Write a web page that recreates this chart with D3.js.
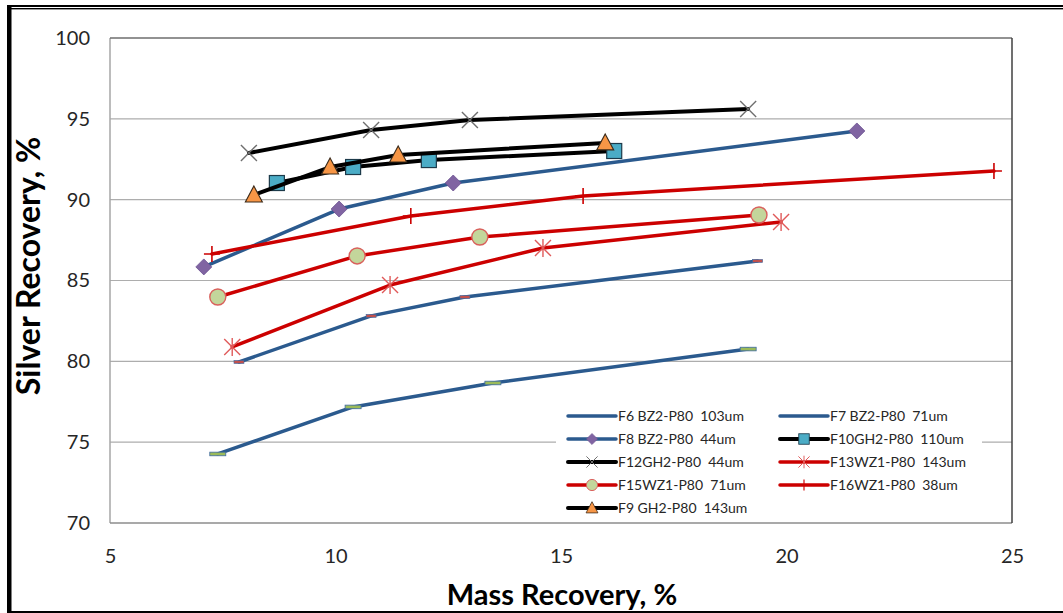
<!DOCTYPE html>
<html>
<head>
<meta charset="utf-8">
<script src="https://cdn.jsdelivr.net/npm/d3@7"></script>
<style>
  html, body { margin: 0; padding: 0; background: #fff; }
  svg { display: block; font-family: Lato, "Open Sans", "DejaVu Sans", sans-serif; }
</style>
</head>
<body>
<svg id="chart" width="1063" height="613"></svg>
<script>
// Mass recovery (%) vs silver recovery (%) for each flotation test
const seriesNames = [
  "F6 BZ2-P80  103um", "F7 BZ2-P80  71um", "F8 BZ2-P80  44um", "F10GH2-P80  110um",
  "F12GH2-P80  44um", "F13WZ1-P80  143um", "F15WZ1-P80  71um", "F16WZ1-P80  38um",
  "F9 GH2-P80  143um"
];
const f6MassRec   = [7.39, 10.39, 13.49, 19.15];
const f6SilverRec = [74.27, 77.18, 78.66, 80.76];
const f7MassRec   = [7.86, 10.79, 12.87, 19.36];
const f7SilverRec = [79.96, 82.81, 83.98, 86.21];
const f8MassRec   = [7.08, 10.08, 12.61, 21.56];
const f8SilverRec = [85.84, 89.42, 91.03, 94.25];
const f10MassRec   = [8.70, 10.39, 12.07, 16.18];
const f10SilverRec = [91.03, 92.02, 92.45, 93.01];
const f12MassRec   = [8.08, 10.79, 12.98, 19.15];
const f12SilverRec = [92.89, 94.31, 94.93, 95.61];
const f13MassRec   = [7.71, 11.21, 14.60, 19.88];
const f13SilverRec = [80.89, 84.72, 87.01, 88.62];
const f15MassRec   = [7.39, 10.48, 13.20, 19.39];
const f15SilverRec = [83.98, 86.52, 87.69, 89.05];
const f16MassRec   = [7.26, 11.67, 15.49, 24.60];
const f16SilverRec = [86.64, 88.99, 90.23, 91.77];
const f9MassRec   = [8.19, 9.88, 11.39, 15.98];
const f9SilverRec = [90.29, 92.02, 92.76, 93.51];

const xTicks = [5, 10, 15, 20, 25];
const yTicks = [70, 75, 80, 85, 90, 95, 100];

const BLUE = "#2b5a8e", RED = "#cc0000", BLACK = "#000000";

const series = [
  { name: seriesNames[0], x: f6MassRec,  y: f6SilverRec,  color: BLUE,  width: 3.5, marker: "dashWide",  legendMarker: false },
  { name: seriesNames[1], x: f7MassRec,  y: f7SilverRec,  color: BLUE,  width: 3.5, marker: "dashShort", legendMarker: false },
  { name: seriesNames[2], x: f8MassRec,  y: f8SilverRec,  color: BLUE,  width: 3.5, marker: "diamond",   legendMarker: true },
  { name: seriesNames[3], x: f10MassRec, y: f10SilverRec, color: BLACK, width: 4,   marker: "square",    legendMarker: true },
  { name: seriesNames[4], x: f12MassRec, y: f12SilverRec, color: BLACK, width: 4,   marker: "x",         legendMarker: true },
  { name: seriesNames[5], x: f13MassRec, y: f13SilverRec, color: RED,   width: 3.5, marker: "star",      legendMarker: true },
  { name: seriesNames[6], x: f15MassRec, y: f15SilverRec, color: RED,   width: 3.5, marker: "circle",    legendMarker: true },
  { name: seriesNames[7], x: f16MassRec, y: f16SilverRec, color: RED,   width: 3.5, marker: "plus",      legendMarker: true },
  { name: seriesNames[8], x: f9MassRec,  y: f9SilverRec,  color: BLACK, width: 4,   marker: "triangle",  legendMarker: true }
];

const svg = d3.select("#chart");
const plot = { left: 110, right: 1012, top: 38, bottom: 523 };

const x = d3.scaleLinear().domain([5, 25]).range([plot.left, plot.right]);
const y = d3.scaleLinear().domain([70, 100]).range([plot.bottom, plot.top]);

// Outer frame
svg.append("rect").attr("x", 7).attr("y", 5).attr("width", 1056).attr("height", 2).attr("fill", "#000");
svg.append("rect").attr("x", 11).attr("y", 8).attr("width", 1052).attr("height", 1.4).attr("fill", "#000");
svg.append("rect").attr("x", 7).attr("y", 5).attr("width", 4.5).attr("height", 608).attr("fill", "#000");
svg.append("rect").attr("x", 7).attr("y", 611).attr("width", 1056).attr("height", 2).attr("fill", "#000");

// Horizontal gridlines
svg.append("g")
  .selectAll("line")
  .data(yTicks.slice(1, -1))
  .join("line")
  .attr("x1", plot.left).attr("x2", plot.right)
  .attr("y1", d => y(d)).attr("y2", d => y(d))
  .attr("stroke", "#adadad").attr("stroke-width", 1.2);

// Y axis tick labels
const yAxis = d3.axisLeft(y).tickValues(yTicks).tickSize(0).tickPadding(20);
const gy = svg.append("g").attr("transform", `translate(${plot.left},0)`).call(yAxis);
gy.select(".domain").remove();
gy.selectAll("text")
  .attr("font-family", "Lato, 'Open Sans', sans-serif")
  .attr("font-size", 20).attr("fill", "#262626");

// X axis tick labels
const xAxis = d3.axisBottom(x).tickValues(xTicks).tickSize(0).tickPadding(26);
const gx = svg.append("g").attr("transform", `translate(0,${plot.bottom})`).call(xAxis);
gx.select(".domain").remove();
gx.selectAll("text")
  .attr("font-family", "Lato, 'Open Sans', sans-serif")
  .attr("font-size", 20).attr("fill", "#262626");

// Axis titles
svg.append("text")
  .attr("transform", `translate(40,266) rotate(-90)`)
  .attr("text-anchor", "middle")
  .attr("font-size", 32).attr("font-weight", "bold").attr("fill", "#000")
  .text("Silver Recovery, %");
svg.append("text")
  .attr("x", 562).attr("y", 605)
  .attr("text-anchor", "middle")
  .attr("font-size", 29).attr("font-weight", "bold").attr("fill", "#000")
  .text("Mass Recovery, %");

// Marker drawing
function drawMarker(g, type) {
  switch (type) {
    case "dashWide":
      g.append("rect").attr("x", -8).attr("y", -1.8).attr("width", 16).attr("height", 3.6)
        .attr("fill", "#9bbb59").attr("stroke", "#3e6aa3").attr("stroke-width", 0.8);
      break;
    case "dashShort":
      g.append("rect").attr("x", -5).attr("y", -1.5).attr("width", 10).attr("height", 3)
        .attr("fill", "#c0504d").attr("stroke", "#3e6aa3").attr("stroke-width", 0.6);
      break;
    case "diamond":
      g.append("path").attr("d", "M0,-8L8,0L0,8L-8,0Z")
        .attr("fill", "#8064a2").attr("stroke", "#6b5290").attr("stroke-width", 0.8);
      break;
    case "square":
      g.append("rect").attr("x", -7.5).attr("y", -7.5).attr("width", 15).attr("height", 15)
        .attr("fill", "#4bacc6").attr("stroke", "#1c3a4a").attr("stroke-width", 1.2);
      break;
    case "x":
      g.append("path").attr("d", "M-8,-8L8,8M-8,8L8,-8")
        .attr("stroke", "#6f6f6f").attr("stroke-width", 1.4).attr("fill", "none");
      break;
    case "star":
      g.append("path").attr("d", "M-8,-8L8,8M-8,8L8,-8M0,-9L0,9")
        .attr("stroke", "#e05a5a").attr("stroke-width", 1.4).attr("fill", "none");
      break;
    case "circle":
      g.append("circle").attr("r", 8)
        .attr("fill", "#c3d69b").attr("stroke", "#d9605c").attr("stroke-width", 1.4);
      break;
    case "plus":
      g.append("path").attr("d", "M0,-8L0,8M-8,0L8,0")
        .attr("stroke", "#cc0000").attr("stroke-width", 1.6).attr("fill", "none");
      break;
    case "triangle":
      g.append("path").attr("d", "M0,-9L8.5,7L-8.5,7Z")
        .attr("fill", "#f79646").attr("stroke", "#3a2a1a").attr("stroke-width", 1.1);
      break;
  }
}

const line = d3.line().x(d => x(d[0])).y(d => y(d[1]));

// Legend background sits behind the series
const legend = { left: 556, right: 982, top: 403, bottom: 521 };
svg.append("rect")
  .attr("x", legend.left).attr("y", legend.top)
  .attr("width", legend.right - legend.left).attr("height", legend.bottom - legend.top)
  .attr("fill", "#fff");

// Series lines and markers
const gSeries = svg.append("g");
series.forEach(s => {
  const pts = s.x.map((v, i) => [v, s.y[i]]);
  const g = gSeries.append("g");
  g.append("path").datum(pts).attr("d", line)
    .attr("fill", "none").attr("stroke", s.color).attr("stroke-width", s.width)
    .attr("stroke-linejoin", "round").attr("stroke-linecap", "round");
  pts.forEach(p => {
    drawMarker(g.append("g").attr("transform", `translate(${x(p[0])},${y(p[1])})`), s.marker);
  });
});

// Plot frame
svg.append("line").attr("x1", plot.left).attr("x2", plot.left).attr("y1", plot.top).attr("y2", plot.bottom)
  .attr("stroke", "#a6a6a6").attr("stroke-width", 1.5);
svg.append("line").attr("x1", plot.left).attr("x2", plot.right).attr("y1", plot.bottom).attr("y2", plot.bottom)
  .attr("stroke", "#8c8c8c").attr("stroke-width", 1.5);
svg.append("line").attr("x1", plot.left).attr("x2", plot.right).attr("y1", plot.top).attr("y2", plot.top)
  .attr("stroke", "#6e6e6e").attr("stroke-width", 1.5);
svg.append("line").attr("x1", plot.right).attr("x2", plot.right).attr("y1", plot.top).attr("y2", plot.bottom)
  .attr("stroke", "#404040").attr("stroke-width", 1.5);

// Legend entries: two columns, filled row by row
const colX = [568, 780];
const rowY0 = 416, rowStep = 23;
series.forEach((s, i) => {
  const cx = colX[i % 2], cy = rowY0 + Math.floor(i / 2) * rowStep;
  const g = svg.append("g").attr("transform", `translate(${cx},${cy})`);
  g.append("line").attr("x1", 0).attr("x2", 48).attr("y1", 0).attr("y2", 0)
    .attr("stroke", s.color).attr("stroke-width", s.width).attr("stroke-linecap", "round");
  if (s.legendMarker) {
    drawMarker(g.append("g").attr("transform", "translate(24,0) scale(0.7)"), s.marker);
  }
  g.append("text").attr("x", 50).attr("y", 0).attr("dy", "0.35em")
    .attr("font-size", 14).attr("fill", "#262626")
    .style("white-space", "pre")
    .text(s.name);
});
</script>
</body>
</html>
